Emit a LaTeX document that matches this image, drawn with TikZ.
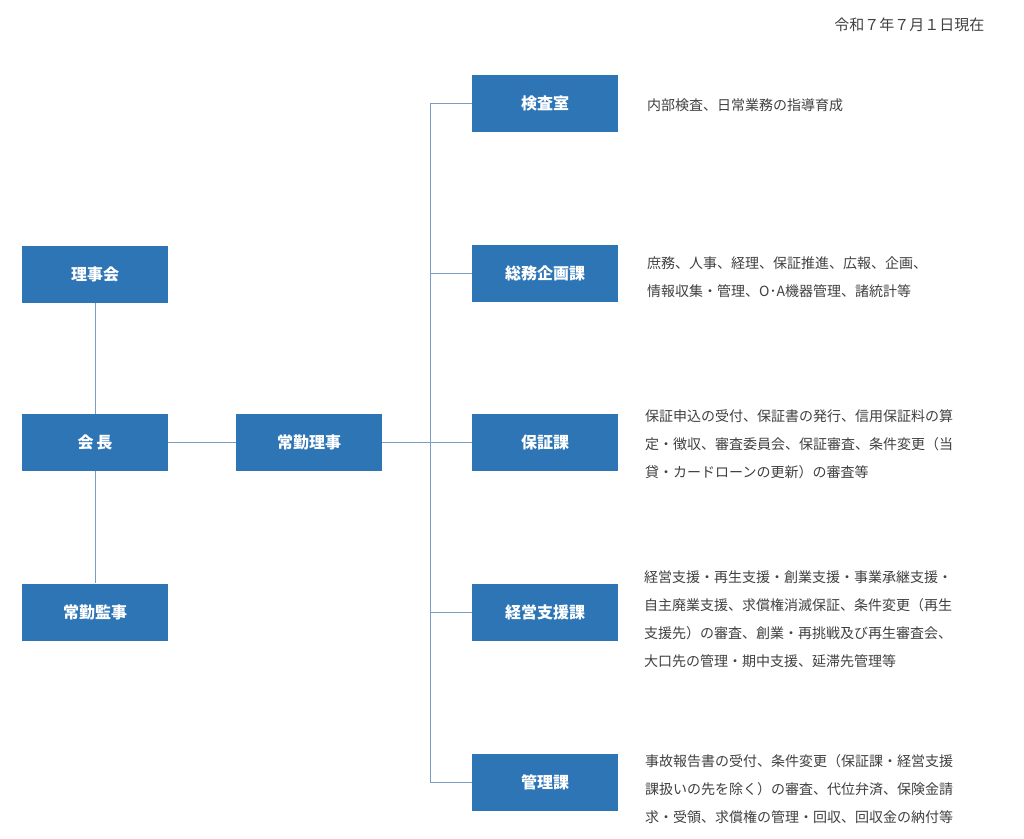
\documentclass[tikz,border=0pt]{standalone}
\usepackage{fontspec}
\setmainfont{Noto Sans CJK JP}
\usetikzlibrary{positioning}
\definecolor{boxblue}{HTML}{2E75B6}
\definecolor{linkblue}{HTML}{7E9CC0}
\definecolor{txtgray}{HTML}{404040}
\tikzset{
  unit/.style={fill=boxblue, text=white, font=\fontsize{16}{18}\selectfont\bfseries,
    minimum width=146pt, minimum height=57pt, inner sep=0pt},
  duty/.style={text=txtgray, font=\fontsize{14}{28}\selectfont, align=left,
    anchor=west, inner sep=0pt},
  link/.style={linkblue, line width=0.8pt}
}
\begin{document}
\begin{tikzpicture}[x=1pt,y=-1pt]
\useasboundingbox (0,0) rectangle (1024,838);

% left column
\node[unit] (riji) at (95,274.5) {理事会};
\node[unit] (kaicho) at (95,442.5) {会\,長};
\node[unit] (kanji) at (95,612) {常勤監事};
\node[unit] (joukin) at (309,442.5) {常勤理事};

% sections
\node[unit] (kensa) at (545,103.5) {検査室};
\node[unit] (soumu) at (545,273) {総務企画課};
\node[unit] (hosho) at (545,442.5) {保証課};
\node[unit] (keiei) at (545,612) {経営支援課};
\node[unit] (kanri) at (545,782.5) {管理課};

\node[text=txtgray, font=\fontsize{15}{18}\selectfont, anchor=east] (date) at (988,25) {令和７年７月１日現在};

% duties
\node[duty] (d1) at (647,105) {内部検査、日常業務の指導育成};
\node[duty] (d2) at (647,277) {庶務、人事、経理、保証推進、広報、企画、\\情報収集・管理、O･A機器管理、諸統計等};
\node[duty] (d3) at (645,444) {保証申込の受付、保証書の発行、信用保証料の算\\定・徴収、審査委員会、保証審査、条件変更（当\\貸・カードローンの更新）の審査等};
\node[duty] (d4) at (644,619) {経営支援・再生支援・創業支援・事業承継支援・\\自主廃業支援、求償権消滅保証、条件変更（再生\\支援先）の審査、創業・再挑戦及び再生審査会、\\大口先の管理・期中支援、延滞先管理等};
\node[duty] (d5) at (645,789) {事故報告書の受付、条件変更（保証課・経営支援\\課扱いの先を除く）の審査、代位弁済、保険金請\\求・受領、求償権の管理・回収、回収金の納付等};

% connectors
\draw[link] (riji) -- (kaicho);
\draw[link] (kaicho) -- (kanji);
\draw[link] (kaicho) -- (joukin);
\coordinate (trunk) at (430,442.5);
\draw[link] (joukin) -- (hosho);
\draw[link] (kensa.west) -| (430,782.5) -- (kanri.west);
\draw[link] (430,273) -- (soumu.west);
\draw[link] (430,612) -- (keiei.west);
\end{tikzpicture}
\end{document}
